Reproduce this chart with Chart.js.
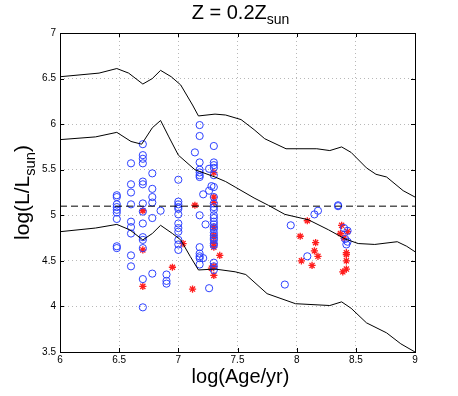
<!DOCTYPE html>
<html>
<head>
<meta charset="utf-8">
<script src="https://cdn.jsdelivr.net/npm/chart.js@4.4.1/dist/chart.umd.min.js"></script>
<style>
  html, body { margin: 0; padding: 0; background: #fff; }
  #wrap { width: 458px; height: 396px; }
</style>
</head>
<body>
<div id="wrap"><canvas id="chart" width="458" height="396"></canvas></div>
<script>
// isochrone-like tracks, [log age, log L]
const trackUpper = [
  [6.0, 6.52], [6.33, 6.56], [6.48, 6.61], [6.58, 6.56], [6.70, 6.44], [6.78, 6.50],
  [6.85, 6.59], [6.94, 6.52], [7.02, 6.43], [7.12, 6.21], [7.17, 6.09], [7.31, 6.11],
  [7.40, 6.10], [7.53, 6.05], [7.64, 5.94], [7.73, 5.84], [7.91, 5.73], [8.17, 5.73],
  [8.28, 5.71], [8.38, 5.75], [8.46, 5.69], [8.59, 5.52], [8.67, 5.45], [8.76, 5.42],
  [8.90, 5.27], [9.0, 5.20]
];
const trackMiddle = [
  [6.0, 5.83], [6.30, 5.86], [6.48, 5.91], [6.60, 5.81], [6.69, 5.78], [6.78, 5.96],
  [6.85, 6.04], [6.92, 5.86], [7.00, 5.66], [7.14, 5.50], [7.31, 5.42], [7.40, 5.37],
  [7.48, 5.31], [7.64, 5.19], [7.76, 5.11], [7.90, 5.01], [8.10, 4.95], [8.27, 4.84],
  [8.41, 4.74], [8.52, 4.69], [8.66, 4.68], [8.85, 4.71], [8.93, 4.66], [9.0, 4.60]
];
const trackLower = [
  [6.0, 4.82], [6.30, 4.86], [6.48, 4.90], [6.59, 4.84], [6.70, 4.73], [6.78, 4.80],
  [6.85, 4.89], [6.95, 4.80], [7.02, 4.73], [7.10, 4.55], [7.17, 4.40], [7.31, 4.41],
  [7.48, 4.38], [7.57, 4.35], [7.75, 4.14], [7.99, 4.03], [8.28, 4.01], [8.38, 4.05],
  [8.46, 3.98], [8.59, 3.82], [8.76, 3.71], [8.88, 3.59], [9.0, 3.50]
];
const limitLine = [[6, 5.1], [9, 5.1]];

// observed stars (blue circles)
const circles = [
  [6.48, 5.22], [6.48, 5.20], [6.48, 5.12], [6.48, 5.09], [6.48, 5.06], [6.48, 5.03], [6.48, 4.96], [6.48, 4.66], [6.48, 4.64],
  [6.60, 5.57], [6.60, 5.34], [6.60, 5.25], [6.60, 5.12], [6.60, 4.93], [6.60, 4.87], [6.60, 4.80], [6.60, 4.56], [6.60, 4.44],
  [6.70, 5.78], [6.70, 5.66], [6.70, 5.62], [6.70, 5.57], [6.70, 5.37], [6.70, 5.34], [6.70, 5.13], [6.70, 5.04], [6.70, 4.91],
  [6.70, 4.76], [6.70, 4.73], [6.70, 4.64], [6.70, 4.30], [6.70, 3.99],
  [6.78, 5.46], [6.78, 5.29], [6.78, 5.20], [6.78, 5.14], [6.78, 4.97], [6.78, 4.36],
  [6.85, 5.05], [6.90, 4.35], [6.90, 4.28], [6.90, 4.25],
  [7.00, 5.39], [7.00, 5.15], [7.00, 5.12], [7.00, 5.09], [7.00, 5.07], [7.00, 5.01], [7.00, 4.91], [7.00, 4.86], [7.00, 4.82],
  [7.00, 4.73], [7.00, 4.68], [7.00, 4.62],
  [7.14, 5.69], [7.18, 5.99], [7.18, 5.87], [7.18, 5.58], [7.18, 5.50], [7.18, 5.47], [7.18, 5.44], [7.18, 5.42], [7.18, 5.00],
  [7.18, 4.65], [7.18, 4.58], [7.18, 4.55], [7.18, 4.53], [7.18, 4.46],
  [7.21, 5.23], [7.21, 4.53], [7.23, 4.90], [7.26, 5.51], [7.26, 5.27], [7.26, 4.20], [7.28, 5.32],
  [7.30, 5.76], [7.30, 5.58], [7.30, 5.55], [7.30, 5.52], [7.30, 5.44], [7.30, 5.31], [7.30, 5.20], [7.30, 5.13], [7.30, 5.09],
  [7.30, 5.06], [7.30, 5.00], [7.30, 4.97], [7.30, 4.93], [7.30, 4.90], [7.30, 4.87], [7.30, 4.85], [7.30, 4.81], [7.30, 4.78],
  [7.30, 4.75], [7.30, 4.73], [7.30, 4.69], [7.30, 4.67], [7.30, 4.48], [7.30, 4.44], [7.30, 4.40],
  [7.90, 4.24], [7.95, 4.89], [8.09, 4.55], [8.15, 5.01], [8.18, 5.05], [8.35, 5.10], [8.35, 5.11],
  [8.40, 4.86], [8.43, 4.83], [8.41, 4.74], [8.43, 4.71], [8.42, 4.68]
];

// red asterisks
const stars = [
  [6.70, 5.05], [6.70, 4.62], [6.70, 4.22], [6.95, 4.43], [7.04, 4.69], [7.14, 5.11], [7.12, 4.19],
  [7.30, 5.47], [7.30, 5.20], [7.30, 5.14], [7.30, 4.87], [7.30, 4.78], [7.30, 4.76], [7.30, 4.69],
  [7.30, 4.65], [7.30, 4.44], [7.30, 4.34], [7.35, 4.56], [7.28, 4.42],
  [8.09, 4.94], [8.03, 4.77], [8.16, 4.70], [8.15, 4.61], [8.18, 4.55], [8.04, 4.50], [8.13, 4.45],
  [8.38, 4.89], [8.37, 4.80], [8.40, 4.75], [8.43, 4.82], [8.42, 4.59], [8.42, 4.57], [8.42, 4.50],
  [8.42, 4.41], [8.39, 4.38]
];

const xTicks = [6, 6.5, 7, 7.5, 8, 8.5, 9];
const yTicks = [3.5, 4, 4.5, 5, 5.5, 6, 6.5, 7];

const FONT = '"Liberation Sans", Arial, Helvetica, sans-serif';
const toXY = pts => pts.map(p => ({ x: p[0], y: p[1] }));

function lineSet(pts, dash) {
  return {
    data: toXY(pts),
    showLine: true,
    borderColor: '#000',
    borderWidth: 1,
    borderDash: dash || [],
    pointRadius: 0,
    fill: false,
    tension: 0
  };
}

// draw text with a subscript part
function subText(ctx, parts, x, y, size, align) {
  let widths = parts.map(p => {
    ctx.font = (p.sub ? size * 0.7 : size) + 'px ' + FONT;
    return ctx.measureText(p.t).width;
  });
  let total = widths.reduce((a, b) => a + b, 0);
  let cx = align == 'center' ? x - total / 2 : x;
  parts.forEach((p, i) => {
    ctx.font = (p.sub ? size * 0.7 : size) + 'px ' + FONT;
    ctx.fillText(p.t, cx, p.sub ? y + size * 0.27 : y);
    cx += widths[i];
  });
}

const framePlugin = {
  id: 'frame',
  afterDraw(chart) {
    const ctx = chart.ctx;
    const a = chart.chartArea;
    const xs = chart.scales.x, ys = chart.scales.y;
    ctx.save();
    ctx.strokeStyle = '#000';
    ctx.lineWidth = 1;
    ctx.setLineDash([]);
    ctx.strokeRect(Math.round(a.left) + 0.5, Math.round(a.top) + 0.5,
      Math.round(a.right - a.left), Math.round(a.bottom - a.top));
    ctx.beginPath();
    xTicks.forEach(v => {
      const px = Math.round(xs.getPixelForValue(v)) + 0.5;
      ctx.moveTo(px, a.bottom); ctx.lineTo(px, a.bottom - 4);
      ctx.moveTo(px, a.top); ctx.lineTo(px, a.top + 4);
    });
    yTicks.forEach(v => {
      const py = Math.round(ys.getPixelForValue(v)) + 0.5;
      ctx.moveTo(a.left, py); ctx.lineTo(a.left + 4, py);
      ctx.moveTo(a.right, py); ctx.lineTo(a.right - 4, py);
    });
    ctx.stroke();

    ctx.fillStyle = '#000';
    ctx.textBaseline = 'alphabetic';
    ctx.textAlign = 'left';
    const cx = (a.left + a.right) / 2;
    subText(ctx, [{ t: 'Z = 0.2Z' }, { t: 'sun', sub: true }], cx + 3, 19, 20, 'center');
    ctx.font = '20px ' + FONT;
    ctx.textAlign = 'center';
    ctx.fillText('log(Age/yr)', cx + 3, 383);

    ctx.translate(29, (a.top + a.bottom) / 2);
    ctx.rotate(-Math.PI / 2);
    ctx.textAlign = 'left';
    subText(ctx, [{ t: 'log(L/L' }, { t: 'sun', sub: true }, { t: ')' }], 0, 0, 21, 'center');
    ctx.restore();
  }
};

new Chart(document.getElementById('chart'), {
  type: 'scatter',
  plugins: [framePlugin],
  data: {
    datasets: [
      lineSet(trackUpper),
      lineSet(trackMiddle),
      lineSet(trackLower),
      lineSet(limitLine, [7, 4]),
      {
        data: toXY(circles),
        pointStyle: 'circle',
        pointRadius: 3.6,
        borderColor: 'rgb(45,65,255)',
        backgroundColor: 'rgba(0,0,0,0)',
        borderWidth: 1
      },
      {
        data: toXY(stars),
        pointStyle: 'star',
        pointRadius: 3.6,
        borderColor: 'rgb(255,30,30)',
        backgroundColor: 'rgb(255,30,30)',
        borderWidth: 1.3
      }
    ]
  },
  options: {
    responsive: false,
    animation: false,
    events: [],
    layout: { padding: { left: 0, right: 43, top: 33, bottom: 0 } },
    plugins: {
      legend: { display: false },
      tooltip: { enabled: false },
      title: { display: false }
    },
    scales: {
      x: {
        type: 'linear',
        min: 6, max: 9,
        afterFit: s => { s.height = 44; },
        afterBuildTicks: s => { s.ticks = xTicks.map(v => ({ value: v })); },
        ticks: {
          color: '#000',
          font: { family: FONT, size: 10 },
          padding: 2,
          maxRotation: 0,
          callback: v => String(v)
        },
        grid: {
          color: '#b8b8b8',
          drawTicks: false
        },
        border: { display: false, dash: [1, 3] }
      },
      y: {
        type: 'linear',
        min: 3.5, max: 7,
        afterFit: s => { s.width = 60; },
        afterBuildTicks: s => { s.ticks = yTicks.map(v => ({ value: v })); },
        ticks: {
          color: '#000',
          font: { family: FONT, size: 10 },
          padding: 4,
          callback: v => String(v)
        },
        grid: {
          color: '#b8b8b8',
          drawTicks: false
        },
        border: { display: false, dash: [1, 3] }
      }
    }
  }
});
</script>
</body>
</html>
